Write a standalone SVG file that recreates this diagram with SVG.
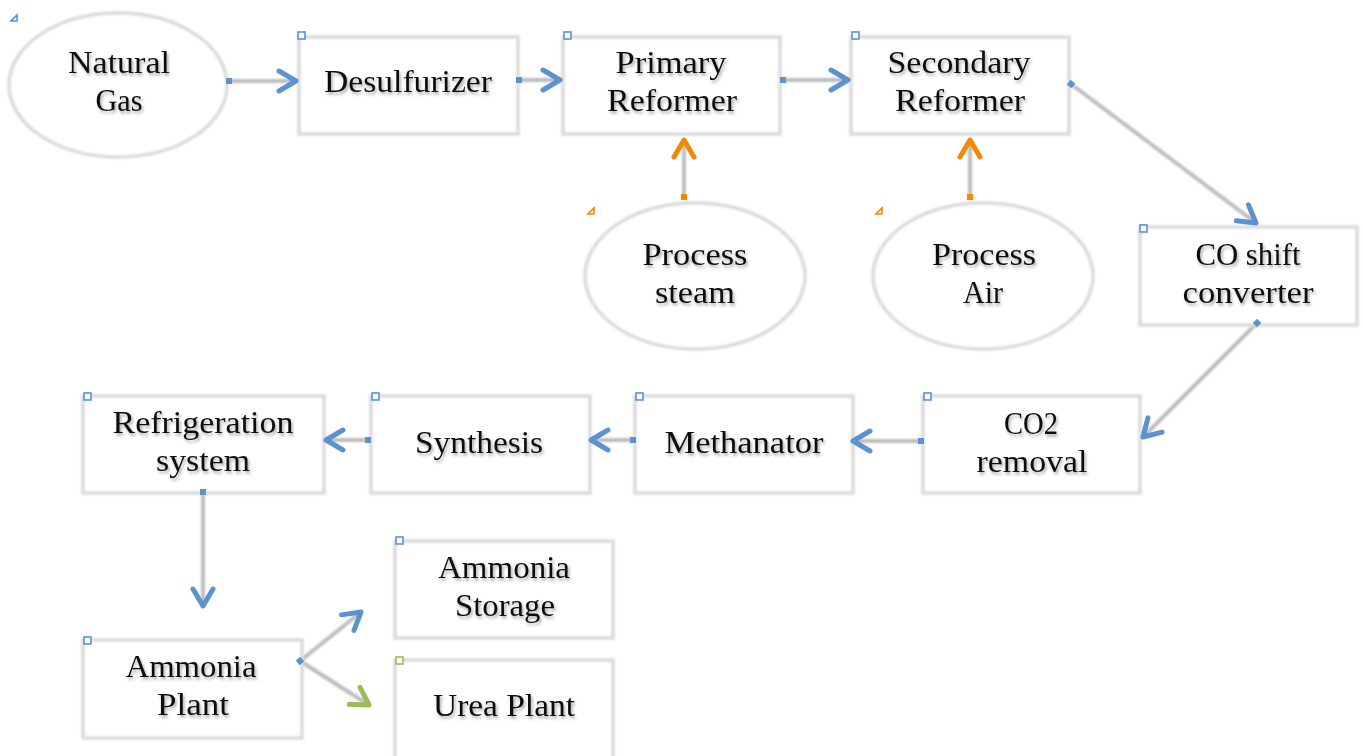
<svg xmlns="http://www.w3.org/2000/svg" width="1363" height="756" viewBox="0 0 1363 756">
<style>
.box{fill:#fff;stroke:#dadada;stroke-width:3.5;filter:url(#soft)}
.ell{fill:#fff;stroke:#dadada;stroke-width:3.5;filter:url(#soft)}
.t{font-family:"Liberation Serif","DejaVu Serif",serif;font-size:31px;fill:#111;text-anchor:middle;filter:url(#tsh)}
.ln{fill:none;stroke:#bcbcbc;stroke-width:4;filter:url(#softu)}
.hb{fill:#fff;stroke:#5b93cf;stroke-width:1.6}
.hg{fill:#fff;stroke:#9bbb59;stroke-width:1.6}
.tb{fill:#fff;stroke:#5b93cf;stroke-width:1.6}
.to{fill:#fff;stroke:#f08a00;stroke-width:1.6}
</style>
<defs>
<filter id="soft" x="-10%" y="-10%" width="120%" height="120%"><feGaussianBlur stdDeviation="0.9"/></filter>
<filter id="softu" filterUnits="userSpaceOnUse" x="0" y="0" width="1363" height="756"><feGaussianBlur stdDeviation="0.8"/></filter>
<filter id="tsh" x="-10%" y="-20%" width="120%" height="150%"><feDropShadow dx="1.5" dy="2.5" stdDeviation="1.6" flood-color="#000" flood-opacity="0.35"/></filter>
<marker id="ab" markerUnits="userSpaceOnUse" viewBox="-22 -14 26 28" refX="0" refY="0" markerWidth="26" markerHeight="28" orient="auto"><path d="M-17,-10 L0,0 L-17,10" fill="none" stroke="#5b93cf" stroke-width="5" stroke-linecap="round" stroke-linejoin="round"/></marker>
<marker id="ao" markerUnits="userSpaceOnUse" viewBox="-22 -14 26 28" refX="0" refY="0" markerWidth="26" markerHeight="28" orient="auto"><path d="M-17,-10 L0,0 L-17,10" fill="none" stroke="#f08a00" stroke-width="5" stroke-linecap="round" stroke-linejoin="round"/></marker>
<marker id="ag" markerUnits="userSpaceOnUse" viewBox="-22 -14 26 28" refX="0" refY="0" markerWidth="26" markerHeight="28" orient="auto"><path d="M-17,-10 L0,0 L-17,10" fill="none" stroke="#9bbb59" stroke-width="5" stroke-linecap="round" stroke-linejoin="round"/></marker>
<marker id="sb" markerUnits="userSpaceOnUse" viewBox="-5 -5 10 10" refX="0" refY="0" markerWidth="10" markerHeight="10" orient="auto"><rect x="-3" y="-3" width="6" height="6" fill="#5b93cf"/></marker>
<marker id="so" markerUnits="userSpaceOnUse" viewBox="-5 -5 10 10" refX="0" refY="0" markerWidth="10" markerHeight="10" orient="auto"><rect x="-3" y="-3" width="6" height="6" fill="#f08a00"/></marker>
</defs>
<rect width="1363" height="756" fill="#fff"/>

<g id="connectors">
<line class="ln" x1="229" y1="81" x2="296" y2="81"/>
<line class="ln" x1="519" y1="80" x2="560" y2="80"/>
<line class="ln" x1="783" y1="80" x2="848" y2="80"/>
<line class="ln" x1="684" y1="197" x2="684" y2="140"/>
<line class="ln" x1="970" y1="197" x2="970" y2="140"/>
<line class="ln" x1="1071" y1="84" x2="1256" y2="223"/>
<line class="ln" x1="1257" y1="323" x2="1143" y2="437"/>
<line class="ln" x1="921" y1="441" x2="853" y2="441"/>
<line class="ln" x1="633" y1="440" x2="591" y2="440"/>
<line class="ln" x1="368" y1="440" x2="326" y2="440"/>
<line class="ln" x1="203" y1="492" x2="203" y2="606"/>
<line class="ln" x1="300" y1="661" x2="361" y2="612"/>
<line class="ln" x1="300" y1="661" x2="369" y2="705"/>
</g>

<g id="natural-gas">
<ellipse class="ell" cx="118" cy="85" rx="109" ry="72"/>
<path class="tb" d="M11,21 L17,21 L17,15 Z"/>
<text class="t" x="119" y="73" textLength="102" lengthAdjust="spacingAndGlyphs">Natural</text>
<text class="t" x="119" y="111" textLength="47" lengthAdjust="spacingAndGlyphs">Gas</text>
</g>
<g id="desulfurizer">
<rect class="box" x="299" y="37" width="219" height="97"/>
<rect class="hb" x="298" y="32" width="7" height="7"/>
<text class="t" x="408" y="92" textLength="168" lengthAdjust="spacingAndGlyphs">Desulfurizer</text>
</g>
<g id="primary-reformer">
<rect class="box" x="563" y="37" width="217" height="97"/>
<rect class="hb" x="564" y="32" width="7" height="7"/>
<text class="t" x="671" y="73" textLength="111" lengthAdjust="spacingAndGlyphs">Primary</text>
<text class="t" x="672" y="111" textLength="130" lengthAdjust="spacingAndGlyphs">Reformer</text>
</g>
<g id="secondary-reformer">
<rect class="box" x="851" y="37" width="218" height="97"/>
<rect class="hb" x="852" y="32" width="7" height="7"/>
<text class="t" x="959" y="73" textLength="143" lengthAdjust="spacingAndGlyphs">Secondary</text>
<text class="t" x="960" y="111" textLength="130" lengthAdjust="spacingAndGlyphs">Reformer</text>
</g>
<g id="process-steam">
<ellipse class="ell" cx="695" cy="276" rx="110" ry="73"/>
<path class="to" d="M588,214 L594,214 L594,208 Z"/>
<text class="t" x="695" y="265" textLength="105" lengthAdjust="spacingAndGlyphs">Process</text>
<text class="t" x="695" y="303" textLength="80" lengthAdjust="spacingAndGlyphs">steam</text>
</g>
<g id="process-air">
<ellipse class="ell" cx="983" cy="276" rx="110" ry="73"/>
<path class="to" d="M876,214 L882,214 L882,208 Z"/>
<text class="t" x="984" y="265" textLength="104" lengthAdjust="spacingAndGlyphs">Process</text>
<text class="t" x="983" y="303" textLength="40" lengthAdjust="spacingAndGlyphs">Air</text>
</g>
<g id="co-shift-converter">
<rect class="box" x="1140" y="227" width="217" height="98"/>
<rect class="hb" x="1140" y="225" width="7" height="7"/>
<text class="t" x="1248" y="265" textLength="105" lengthAdjust="spacingAndGlyphs">CO shift</text>
<text class="t" x="1248" y="303" textLength="131" lengthAdjust="spacingAndGlyphs">converter</text>
</g>
<g id="co2-removal">
<rect class="box" x="923" y="396" width="217" height="97"/>
<rect class="hb" x="924" y="393" width="7" height="7"/>
<text class="t" x="1031" y="434" textLength="54" lengthAdjust="spacingAndGlyphs">CO2</text>
<text class="t" x="1032" y="472" textLength="111" lengthAdjust="spacingAndGlyphs">removal</text>
</g>
<g id="methanator">
<rect class="box" x="635" y="396" width="218" height="97"/>
<rect class="hb" x="636" y="393" width="7" height="7"/>
<text class="t" x="744" y="453" textLength="159" lengthAdjust="spacingAndGlyphs">Methanator</text>
</g>
<g id="synthesis">
<rect class="box" x="371" y="396" width="219" height="97"/>
<rect class="hb" x="372" y="393" width="7" height="7"/>
<text class="t" x="479" y="453" textLength="128" lengthAdjust="spacingAndGlyphs">Synthesis</text>
</g>
<g id="refrigeration-system">
<rect class="box" x="83" y="396" width="241" height="97"/>
<rect class="hb" x="84" y="393" width="7" height="7"/>
<text class="t" x="203" y="433" textLength="181" lengthAdjust="spacingAndGlyphs">Refrigeration</text>
<text class="t" x="203" y="471" textLength="94" lengthAdjust="spacingAndGlyphs">system</text>
</g>
<g id="ammonia-plant">
<rect class="box" x="83" y="640" width="219" height="98"/>
<rect class="hb" x="84" y="637" width="7" height="7"/>
<text class="t" x="191" y="677" textLength="131" lengthAdjust="spacingAndGlyphs">Ammonia</text>
<text class="t" x="193" y="715" textLength="72" lengthAdjust="spacingAndGlyphs">Plant</text>
</g>
<g id="ammonia-storage">
<rect class="box" x="395" y="541" width="218" height="97"/>
<rect class="hb" x="396" y="537" width="7" height="7"/>
<text class="t" x="504" y="578" textLength="132" lengthAdjust="spacingAndGlyphs">Ammonia</text>
<text class="t" x="505" y="616" textLength="100" lengthAdjust="spacingAndGlyphs">Storage</text>
</g>
<g id="urea-plant">
<rect class="box" x="395" y="660" width="218" height="100"/>
<rect class="hg" x="396" y="657" width="7" height="7"/>
<text class="t" x="504" y="716" textLength="142" lengthAdjust="spacingAndGlyphs">Urea Plant</text>
</g>

<g id="arrowheads">
<line x1="229" y1="81" x2="296" y2="81" stroke="none" marker-start="url(#sb)" marker-end="url(#ab)"/>
<line x1="519" y1="80" x2="560" y2="80" stroke="none" marker-start="url(#sb)" marker-end="url(#ab)"/>
<line x1="783" y1="80" x2="848" y2="80" stroke="none" marker-start="url(#sb)" marker-end="url(#ab)"/>
<line x1="684" y1="197" x2="684" y2="140" stroke="none" marker-start="url(#so)" marker-end="url(#ao)"/>
<line x1="970" y1="197" x2="970" y2="140" stroke="none" marker-start="url(#so)" marker-end="url(#ao)"/>
<line x1="1071" y1="84" x2="1256" y2="223" stroke="none" marker-start="url(#sb)" marker-end="url(#ab)"/>
<line x1="1257" y1="323" x2="1143" y2="437" stroke="none" marker-start="url(#sb)" marker-end="url(#ab)"/>
<line x1="921" y1="441" x2="853" y2="441" stroke="none" marker-start="url(#sb)" marker-end="url(#ab)"/>
<line x1="633" y1="440" x2="591" y2="440" stroke="none" marker-start="url(#sb)" marker-end="url(#ab)"/>
<line x1="368" y1="440" x2="326" y2="440" stroke="none" marker-start="url(#sb)" marker-end="url(#ab)"/>
<line x1="203" y1="492" x2="203" y2="606" stroke="none" marker-start="url(#sb)" marker-end="url(#ab)"/>
<line x1="300" y1="661" x2="361" y2="612" stroke="none" marker-start="url(#sb)" marker-end="url(#ab)"/>
<line x1="300" y1="661" x2="369" y2="705" stroke="none" marker-end="url(#ag)"/>
</g>
</svg>
